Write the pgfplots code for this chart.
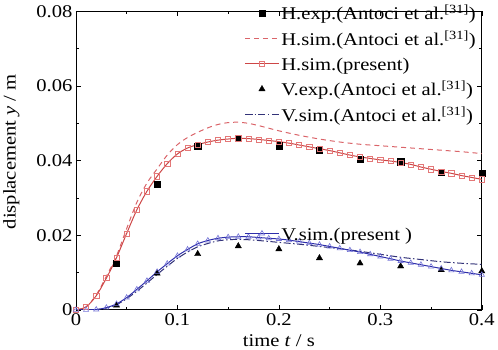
\documentclass[border=0pt]{standalone}
\usepackage{fontspec}
\setmainfont[FakeStretch=1.15]{Liberation Serif}
\usepackage{pgfplots}
\usepackage{pgfplotstable}
\pgfplotsset{compat=1.18}
\definecolor{hred}{RGB}{205,70,70}
\definecolor{hredm}{RGB}{228,120,120}
\definecolor{hdash}{RGB}{218,100,105}
\definecolor{vblue}{RGB}{45,45,170}
\definecolor{vbluem}{RGB}{115,115,215}
\definecolor{vdash}{RGB}{50,50,120}

\pgfplotstableread{
t y
0.04 0.0126
0.08 0.0337
0.12 0.0438
0.16 0.0460
0.20 0.0440
0.24 0.0427
0.28 0.0405
0.32 0.0397
0.36 0.0368
0.40 0.0366
}\hexp

\pgfplotstableread{
t y
0.00 0.0000
0.01 0.0008
0.02 0.0040
0.03 0.0090
0.04 0.0145
0.05 0.0218
0.06 0.0288
0.07 0.0340
0.08 0.0378
0.09 0.0415
0.10 0.0443
0.11 0.0462
0.12 0.0476
0.13 0.0488
0.14 0.0497
0.15 0.0502
0.16 0.0503
0.17 0.0500
0.18 0.0494
0.19 0.0487
0.20 0.0480
0.22 0.0468
0.24 0.0458
0.26 0.0450
0.28 0.0444
0.30 0.0440
0.32 0.0436
0.34 0.0432
0.36 0.0428
0.38 0.0424
0.40 0.0419
}\hsimA

\pgfplotstableread{
t y
0.00 0.0000
0.01 0.0008
0.02 0.0038
0.03 0.0085
0.04 0.0140
0.05 0.0205
0.06 0.0268
0.07 0.0318
0.08 0.0358
0.09 0.0392
0.10 0.0418
0.11 0.0434
0.12 0.0443
0.13 0.0450
0.14 0.0455
0.15 0.0458
0.16 0.0460
0.17 0.0459
0.18 0.0457
0.19 0.0454
0.20 0.0451
0.21 0.0447
0.22 0.0442
0.23 0.0437
0.24 0.0432
0.25 0.0427
0.26 0.0421
0.27 0.0415
0.28 0.0410
0.29 0.0406
0.30 0.0402
0.31 0.0399
0.32 0.0395
0.33 0.0390
0.34 0.0383
0.35 0.0377
0.36 0.0371
0.37 0.0366
0.38 0.0360
0.39 0.0355
0.40 0.0350
}\hsimP

\pgfplotstableread{
t y
0.04 0.0012
0.08 0.0098
0.12 0.0150
0.16 0.0171
0.20 0.0163
0.24 0.0139
0.28 0.0125
0.32 0.0117
0.36 0.0107
0.40 0.0104
}\vexp

\pgfplotstableread{
t y
0.00 0.0000
0.02 0.0001
0.03 0.0005
0.04 0.0014
0.05 0.0030
0.06 0.0050
0.07 0.0072
0.08 0.0095
0.09 0.0117
0.10 0.0138
0.11 0.0155
0.12 0.0169
0.13 0.0178
0.14 0.0185
0.15 0.0188
0.16 0.0189
0.17 0.0188
0.18 0.0186
0.20 0.0181
0.22 0.0176
0.24 0.0170
0.26 0.0164
0.28 0.0157
0.30 0.0149
0.32 0.0141
0.34 0.0135
0.36 0.0129
0.38 0.0125
0.40 0.0122
}\vsimA

\pgfplotstableread{
t y
0.00 0.0000
0.01 0.0000
0.02 0.0001
0.03 0.0006
0.04 0.0016
0.05 0.0033
0.06 0.0055
0.07 0.0078
0.08 0.0102
0.09 0.0124
0.10 0.0145
0.11 0.0162
0.12 0.0177
0.13 0.0186
0.14 0.0192
0.15 0.0195
0.16 0.0196
0.17 0.0196
0.18 0.0194
0.19 0.0192
0.20 0.0190
0.21 0.0187
0.22 0.0183
0.23 0.0179
0.24 0.0175
0.25 0.0170
0.26 0.0165
0.27 0.0160
0.28 0.0155
0.29 0.0149
0.30 0.0143
0.31 0.0137
0.32 0.0131
0.33 0.0126
0.34 0.0121
0.35 0.0116
0.36 0.0111
0.37 0.0106
0.38 0.0102
0.39 0.0098
0.40 0.0094
}\vsimP

\begin{document}
\begin{tikzpicture}
\pgfplotsset{
  mybase/.style={
    scale only axis, width=408pt, height=300pt,
    xmin=0, xmax=0.4, ymin=0, ymax=0.08,
    scaled x ticks=false, scaled y ticks=false,
    legend image code/.code={\draw[mark repeat=2,mark phase=2,##1] plot coordinates {(0pt,0pt) (17pt,0pt) (34pt,0pt)};},
    legend style={draw=none, fill=none, inner sep=0pt, row sep=-0.5pt,
      font=\fontsize{18}{18}\selectfont,
      nodes={text height=18pt, text depth=4pt, inner sep=2pt},
      cells={anchor=west}},
  },
}
\begin{axis}[mybase,
  xtick={0,0.1,0.2,0.3,0.4}, xticklabels={0,0.1,0.2,0.3,0.4},
  ytick={0,0.02,0.04,0.06,0.08}, yticklabels={0,0.02,0.04,0.06,0.08},
  minor x tick num=1, minor y tick num=1,
  tick align=inside, major tick length=5pt, minor tick length=3pt,
  tick style={black, line width=0.6pt},
  axis line style={line width=0.8pt},
  /pgf/number format/assume math mode=true,
  tick label style={font=\fontsize{18}{18}\selectfont},
  label style={font=\fontsize{18}{18}\selectfont},
  xlabel={time \textit{t} / s},
  xlabel style={yshift=-2pt},
  ylabel={displacement \textit{y} / m},
  ylabel style={at={(ticklabel cs:0.53)}, yshift=10pt},
  legend style={anchor=north west, at={(rel axis cs:0.415,1.039)}},
]
\addplot[only marks, mark=square*, mark size=3.1pt, black] table[x=t,y=y]{\hexp};
\addlegendentry{H.exp.(Antoci et al.\textsuperscript{[31]})}
\addplot[hdash, line width=1pt, dash pattern=on 5pt off 4pt, smooth] table[x=t,y=y]{\hsimA};
\addlegendentry{H.sim.(Antoci et al.\textsuperscript{[31]})}
\addplot[hred, line width=1pt, smooth, mark=square, mark size=2.6pt, mark options={hredm, solid, fill=none, line width=0.6pt}] table[x=t,y=y]{\hsimP};
\addlegendentry{H.sim.(present)}
\addplot[only marks, mark=triangle*, mark size=3.6pt, black] table[x=t,y=y]{\vexp};
\addlegendentry{V.exp.(Antoci et al.\textsuperscript{[31]})}
\addplot[vdash, line width=1pt, dash pattern=on 7pt off 2.5pt on 1.5pt off 2.5pt, smooth] table[x=t,y=y]{\vsimA};
\addlegendentry{V.sim.(Antoci et al.\textsuperscript{[31]})}
\addplot[vblue, line width=1pt, smooth, mark=triangle, mark size=3pt, mark options={vbluem, solid, fill=none, line width=0.6pt}, forget plot] table[x=t,y=y]{\vsimP};
\end{axis}
\begin{axis}[mybase, hide axis,
  legend style={anchor=north west, at={(rel axis cs:0.415,0.3)}},
]
\addlegendimage{vblue, line width=1pt, mark=triangle, mark size=3pt, mark options={vbluem, solid, fill=white, line width=0.6pt}}
\addlegendentry{V.sim.(present )}
\end{axis}
\end{tikzpicture}
\end{document}
